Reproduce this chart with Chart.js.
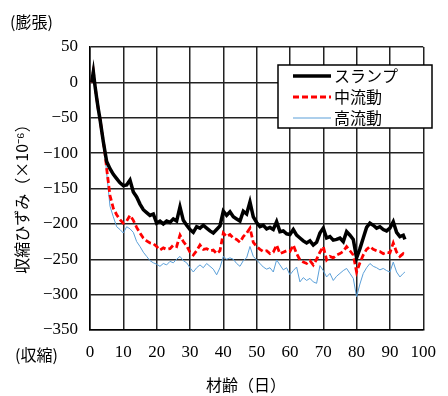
<!DOCTYPE html>
<html>
<head>
<meta charset="utf-8">
<script src="https://cdn.jsdelivr.net/npm/chart.js@4"></script>
<style>
  html, body { margin: 0; padding: 0; background: #fff; }
  #wrap { width: 448px; height: 396px; }
</style>
</head>
<body>
<div id="wrap"><canvas id="chart" width="448" height="396"></canvas></div>
<script>
const days = [
  0.5, 1, 1.5, 2, 2.5, 3, 3.5, 4, 4.5, 5,
  6, 7, 8, 9, 10, 11, 12, 13, 14, 15,
  16, 17, 18, 19, 20, 21, 22, 23, 24, 25,
  26, 27, 28, 29, 30, 31, 32, 33, 34, 35,
  36, 37, 38, 39, 40, 41, 42, 43, 44, 45,
  46, 47, 48, 49, 50, 51, 52, 53, 54, 55,
  56, 57, 58, 59, 60, 61, 62, 63, 64, 65,
  66, 67, 68, 69, 70, 71, 72, 73, 74, 75,
  76, 77, 78, 79, 80, 81, 82, 83, 84, 85,
  86, 87, 88, 89, 90, 91, 92, 93, 94, 94.5];

const slump = [
  0, 15, -5, -22, -38, -52, -68, -84, -98, -112,
  -122, -130, -136, -142, -146, -145, -138, -155, -162, -172,
  -180, -184, -188, -186, -199, -196, -200, -196, -198, -193,
  -196, -176, -195, -202, -208, -212, -204, -206, -202, -206,
  -210, -213, -208, -203, -182, -188, -183, -190, -193, -196,
  -182, -186, -169, -190, -198, -204, -202, -207, -205, -208,
  -197, -211, -210, -214, -215, -208, -216, -220, -224, -227,
  -224, -230, -226, -213, -206, -220, -218, -223, -222, -220,
  -225, -211, -216, -222, -248, -235, -220, -205, -199, -202,
  -206, -204, -208, -210, -206, -197, -212, -218, -216, -222];

const midFlow = [
  0, 15, -5, -22, -38, -52, -68, -84, -100, -122,
  -160, -178, -187, -194, -199, -196, -188, -195, -205, -213,
  -220, -224, -227, -228, -232, -237, -234, -236, -235, -230,
  -232, -216, -225, -231, -240, -244, -238, -230, -236, -235,
  -238, -237, -242, -238, -213, -218, -215, -220, -222, -226,
  -218, -213, -206, -226, -232, -236, -239, -238, -242, -240,
  -230, -242, -240, -238, -239, -230, -242, -251, -254, -256,
  -252, -258, -250, -240, -232, -251, -246, -248, -244, -242,
  -239, -232, -238, -244, -268, -255, -244, -236, -232, -236,
  -238, -239, -242, -240, -241, -227, -240, -246, -242, -244];

const highFlow = [
  0, 15, -5, -22, -38, -52, -68, -84, -102, -128,
  -175, -190, -204, -208, -213, -204, -207, -212, -225, -232,
  -240, -246, -252, -255, -257, -260, -256, -258, -253, -255,
  -250, -246, -252, -255, -262, -268, -262, -258, -262, -256,
  -260, -264, -272, -262, -246, -250, -248, -250, -256, -260,
  -252, -248, -232, -246, -251, -256, -261, -264, -262, -268,
  -251, -258, -265, -262, -272, -266, -261, -282, -276, -280,
  -277, -282, -284, -259, -266, -275, -270, -280, -274, -270,
  -266, -263, -270, -277, -303, -285, -270, -262, -256, -260,
  -262, -265, -263, -266, -268, -254, -268, -275, -270, -268];

const seriesNames = ['スランプ', '中流動', '高流動'];

const numFont = "'Liberation Serif', 'DejaVu Serif', serif";
const jpFont = "'Noto Sans CJK JP', sans-serif";

function pts(vals) {
  return days.map((d, i) => ({ x: d, y: vals[i] }));
}

// legend box and the free texts around the axes
const extras = {
  id: 'extras',
  afterDraw(chart) {
    const ctx = chart.ctx;
    ctx.save();
    // legend
    ctx.fillStyle = '#fff';
    ctx.fillRect(278, 65, 154, 63);
    ctx.strokeStyle = '#000';
    ctx.lineWidth = 1.5;
    ctx.strokeRect(278, 65, 154, 63);
    const rows = [76, 97, 118];
    chart.data.datasets.forEach((ds, i) => {
      ctx.beginPath();
      ctx.strokeStyle = ds.borderColor;
      ctx.lineWidth = ds.borderWidth;
      ctx.setLineDash(ds.borderDash || []);
      ctx.moveTo(293, rows[i]);
      ctx.lineTo(331, rows[i]);
      ctx.stroke();
      ctx.setLineDash([]);
      ctx.fillStyle = '#000';
      ctx.font = '16px ' + jpFont;
      ctx.textAlign = 'left';
      ctx.textBaseline = 'middle';
      ctx.fillText(ds.label, 334, rows[i]);
    });
    // side notes
    ctx.fillStyle = '#000';
    ctx.font = '16px ' + jpFont;
    ctx.textAlign = 'left';
    ctx.textBaseline = 'middle';
    ctx.fillText('(膨張)', 10, 22);
    ctx.fillText('(収縮)', 15, 355);
    // axis titles
    ctx.textAlign = 'center';
    ctx.fillText('材齢（日）', 246, 385);
    ctx.translate(22, 195);
    ctx.rotate(-Math.PI / 2);
    ctx.fillText('収縮ひずみ（×10⁻⁶）', 0, 0);
    ctx.restore();
  }
};

new Chart(document.getElementById('chart'), {
  type: 'line',
  data: {
    datasets: [
      {
        label: seriesNames[0],
        data: pts(slump),
        borderColor: '#000000',
        borderWidth: 3.5,
        pointRadius: 0,
        tension: 0
      },
      {
        label: seriesNames[1],
        data: pts(midFlow),
        borderColor: '#ff0000',
        borderWidth: 2.8,
        borderDash: [6, 3],
        pointRadius: 0,
        tension: 0
      },
      {
        label: seriesNames[2],
        data: pts(highFlow),
        borderColor: '#5a9fd8',
        borderWidth: 1,
        pointRadius: 0,
        tension: 0
      }
    ]
  },
  options: {
    responsive: false,
    animation: false,
    layout: { padding: { left: 0, right: 14, top: 47, bottom: 0 } },
    plugins: {
      legend: { display: false },
      tooltip: { enabled: false }
    },
    scales: {
      x: {
        type: 'linear',
        min: 0,
        max: 100,
        afterFit: s => { s.height = 66; },
        ticks: {
          stepSize: 10,
          maxRotation: 0,
          padding: 12,
          color: '#000',
          font: { family: numFont, size: 17 }
        },
        grid: { color: '#222', lineWidth: 1.5, drawTicks: false },
        border: { color: '#000', width: 1.5 }
      },
      y: {
        min: -350,
        max: 50,
        afterFit: s => { s.width = 90; },
        ticks: {
          stepSize: 50,
          padding: 12,
          color: '#000',
          font: { family: numFont, size: 17 },
          callback: v => String(v).replace('-', '−')
        },
        grid: { color: '#222', lineWidth: 1.5, drawTicks: false },
        border: { color: '#000', width: 1.5 }
      }
    }
  },
  plugins: [extras]
});
</script>
</body>
</html>
